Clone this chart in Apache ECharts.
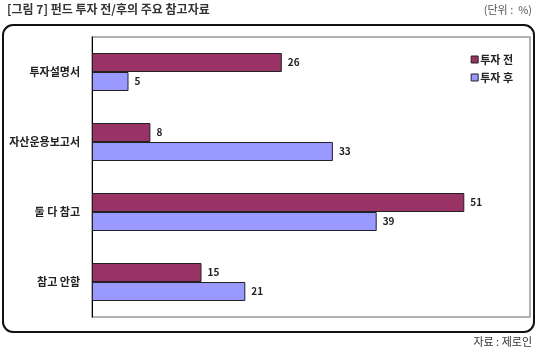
<!DOCTYPE html>
<html><head><meta charset="utf-8">
<script src="https://cdn.jsdelivr.net/npm/echarts@6/dist/echarts.min.js"></script>
<style>html,body{margin:0;padding:0;background:#fff}#c{width:540px;height:354px}</style>
</head><body><div id="c"></div>
<script>
const categories = ['투자설명서', '자산운용보고서', '둘 다 참고', '참고 안함'];
const seriesNames = ['투자 전', '투자 후'];
const before = [26, 8, 51, 15];
const after = [5, 33, 39, 21];

const F = '"Noto Sans CJK KR", sans-serif';
const chart = echarts.init(document.getElementById('c'));
chart.setOption({
  animation: false,
  textStyle: { fontFamily: F },
  graphic: [
    { type: 'rect', shape: { x: 3, y: 25, width: 531, height: 307, r: 10 }, style: { fill: 'none', stroke: '#111', lineWidth: 2 } },
    { type: 'rect', shape: { x: 92, y: 37, width: 438, height: 280 }, style: { fill: 'none', stroke: '#999', lineWidth: 1.5 } },
    { type: 'text', left: 7, top: 3, style: { text: '[그림 7] 펀드 투자 전/후의 주요 참고자료', font: 'bold 12px ' + F, fill: '#333' } },
    { type: 'text', right: 8, top: 4, style: { text: '(단위 :  %)', font: '11px ' + F, fill: '#555' } },
    { type: 'text', right: 8, top: 336, style: { text: '자료 : 제로인', font: '11px ' + F, fill: '#333' } }
  ],
  legend: {
    orient: 'vertical', right: 22, top: 49, itemWidth: 7, itemHeight: 7, itemGap: 7,
    icon: 'rect',
    itemStyle: { borderColor: '#222', borderWidth: 1 },
    textStyle: { fontFamily: F, fontSize: 11, fontWeight: 'bold', color: '#222', padding: [0, 0, 0, -3] },
    data: seriesNames
  },
  grid: { left: 92, top: 37, width: 438, height: 280 },
  xAxis: { type: 'value', min: 0, max: 60, show: false },
  yAxis: {
    type: 'category', inverse: true, data: categories,
    axisLine: { lineStyle: { color: '#000', width: 1 } },
    axisTick: { inside: true, length: 3, lineStyle: { color: '#000' } },
    axisLabel: { fontFamily: F, fontSize: 11, fontWeight: 'bold', color: '#222', margin: 12 }
  },
  series: [
    { name: seriesNames[0], type: 'bar', data: before, barWidth: 19, barGap: '0%',
      itemStyle: { color: '#993366', borderColor: '#222', borderWidth: 1 },
      label: { show: true, position: 'right', fontFamily: F, fontSize: 10, fontWeight: 'bold', color: '#222', distance: 6 } },
    { name: seriesNames[1], type: 'bar', data: after, barWidth: 19,
      itemStyle: { color: '#9999FF', borderColor: '#222', borderWidth: 1 },
      label: { show: true, position: 'right', fontFamily: F, fontSize: 10, fontWeight: 'bold', color: '#222', distance: 6 } }
  ]
});
</script></body></html>
